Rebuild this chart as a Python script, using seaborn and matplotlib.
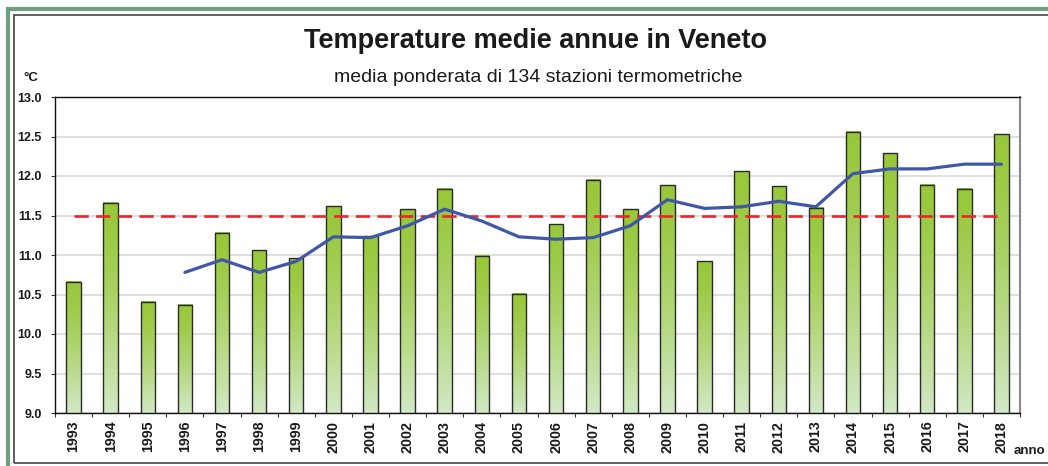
import numpy as np
import pandas as pd
import matplotlib
matplotlib.use('Agg')
import matplotlib.pyplot as plt
import seaborn as sns
from matplotlib.patches import Rectangle
from matplotlib.colors import LinearSegmentedColormap

sns.set_theme(style="white")
plt.rcParams['font.family'] = ['Liberation Sans', 'DejaVu Sans']

# data
anni = [str(a) for a in range(1993, 2019)]
temperature = [10.66, 11.66, 10.41, 10.37, 11.28, 11.06, 10.96, 11.62, 11.24, 11.58,
               11.84, 10.99, 10.51, 11.39, 11.95, 11.58, 11.88, 10.92, 12.06, 11.87,
               11.60, 12.56, 12.29, 11.89, 11.84, 12.53]
anni_media = anni[3:]  # media mobile starts in 1996
media_mobile = [10.78, 10.94, 10.78, 10.92, 11.23, 11.22, 11.37, 11.58, 11.43, 11.23,
                11.20, 11.22, 11.37, 11.70, 11.59, 11.61, 11.68, 11.61, 12.03, 12.09,
                12.09, 12.15, 12.15]
riferimento = 11.5
y_ticks = [9.0, 9.5, 10.0, 10.5, 11.0, 11.5, 12.0, 12.5, 13.0]

title = "Temperature medie annue in Veneto"
subtitle = "media ponderata di 134 stazioni termometriche"

W, H = 1048, 466
top_green = '#98C83A'
pale_green = '#D2E9C6'

df = pd.DataFrame({'anno': anni, 'temperatura': temperature})

fig = plt.figure(figsize=(W / 100, H / 100), dpi=100)
ax = fig.add_axes([55 / W, 1 - 413 / H, (1020 - 55) / W, (413 - 97) / H])

sns.barplot(data=df, x='anno', y='temperatura', color=top_green, saturation=1,
            width=0.39, edgecolor='#2a2a2a', linewidth=1.0, ax=ax, zorder=3)

ymin, ymax = y_ticks[0], y_ticks[-1]

#gradient fill for each bar (bright on top, pale at bottom)
cmap = LinearSegmentedColormap.from_list('verde', [top_green, pale_green])
grad = np.linspace(0, 1, 256) ** 1.4
grad = grad.reshape(-1, 1)
for p in list(ax.patches):
    x0, w, h = p.get_x(), p.get_width(), p.get_height()
    p.set_facecolor('none')
    ax.imshow(grad, extent=[x0, x0 + w, ymin, h], origin='upper', aspect='auto',
              cmap=cmap, vmin=0, vmax=1, zorder=2.5)

sns.lineplot(x=anni, y=[riferimento] * len(anni), ax=ax, color='#E8262B',
             linewidth=1.9, linestyle=(0, (5.4, 2.8)), zorder=4)
sns.lineplot(x=anni_media, y=media_mobile, ax=ax, color='#3F57A8',
             linewidth=2.3, zorder=5)

ax.set_xlim(-0.5, len(anni) - 0.5)
ax.set_ylim(ymin, ymax)
ax.set_yticks(y_ticks)
ax.set_yticklabels([f"{v:.1f}" for v in y_ticks])
ax.set_xticks(np.arange(-0.5, len(anni), 1), minor=True)
ax.set_xlabel('')
ax.set_ylabel('')

ax.set_axisbelow(True)
ax.yaxis.grid(True, color='#D9D9D9', linewidth=1.2)
ax.xaxis.grid(False)

ax.tick_params(axis='x', which='major', length=0, pad=5.5, labelrotation=90,
               labelsize=10.3, colors='#1a1a1a')
ax.tick_params(axis='x', which='minor', length=3, width=0.8, color='#333333',
               direction='out', bottom=True)
ax.tick_params(axis='y', which='major', length=3, width=0.8, color='#333333',
               direction='out', left=True, pad=6.5, labelsize=9, labelcolor='#1a1a1a')
for lab in ax.get_xticklabels() + ax.get_yticklabels():
    lab.set_fontweight('bold')

for side in ['left', 'bottom', 'top']:
    ax.spines[side].set_color('#111111')
    ax.spines[side].set_linewidth(1.0)
ax.spines['right'].set_color('#8a8a8a')
ax.spines['right'].set_linewidth(1.5)

#titles and axis captions
fig.text(535 / W, 1 - 48 / H, title, ha='center', va='baseline', fontsize=19.5,
         fontweight='bold', color='#1a1a1a')
fig.text(538 / W, 1 - 82 / H, subtitle, ha='center', va='baseline', fontsize=14,
         color='#1a1a1a')
fig.text(23 / W, 1 - 81 / H, '°C', ha='left', va='baseline', fontsize=9.5,
         fontweight='bold', color='#1a1a1a')
fig.text(1045 / W, 1 - 454 / H, 'anno', ha='right', va='baseline', fontsize=9.5,
         fontweight='bold', color='#1a1a1a')

#outer frames (cut at right and bottom)
fig.patches.append(Rectangle((8 / W, -0.1), 1.2, 1 - 9 / H + 0.1,
                             transform=fig.transFigure, fill=False,
                             edgecolor='#6E9F82', linewidth=3.0))
fig.patches.append(Rectangle((13.7 / W, 1 - 463 / H), 1.2, (463 - 15) / H,
                             transform=fig.transFigure, fill=False,
                             edgecolor='#444444', linewidth=1.2))

fig.savefig('out.png', dpi=100)
